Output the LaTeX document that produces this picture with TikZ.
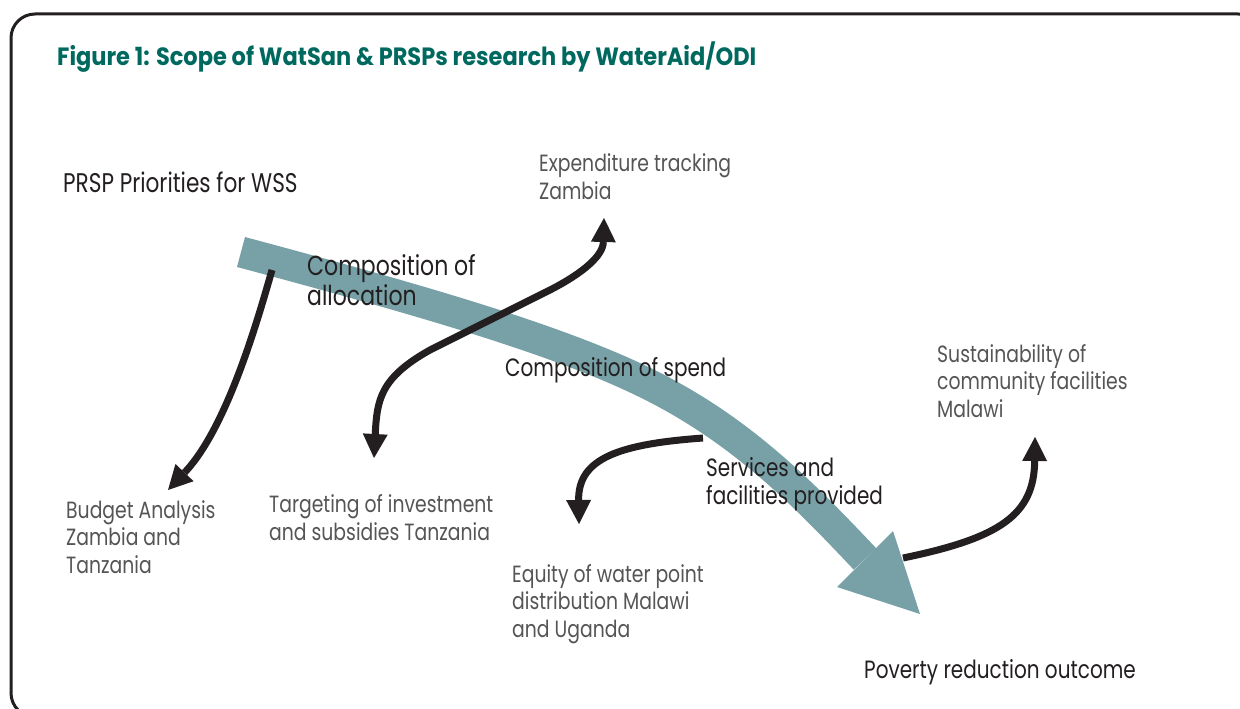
\documentclass[tikz,border=0pt]{standalone}
\usepackage{fontspec}
\setmainfont{Poppins}[FakeStretch=0.8]
\newfontfamily\titlefont{Poppins}[FakeStretch=0.9]
\usetikzlibrary{arrows.meta}
\definecolor{titlecol}{HTML}{00695F}
\definecolor{bandcol}{HTML}{77A1A6}
\definecolor{ink}{HTML}{231F20}
\definecolor{greytext}{HTML}{555555}
\begin{document}
\begin{tikzpicture}[x=1pt,y=-1pt,
  darklab/.style={font=\fontsize{25}{28}\selectfont, text=ink, inner sep=0pt, anchor=base west, align=left},
  greylab/.style={darklab, font=\fontsize{23.5}{27.5}\selectfont, text=greytext},
  titlelab/.style={font=\titlefont\fontsize{25}{28}\selectfont\bfseries, text=titlecol, inner sep=0pt, anchor=base west},
  blkarrow/.style={draw=ink, line width=7pt, -{Triangle[width=25pt,length=24pt,line width=0pt]}},
  dblarrow/.style={draw=ink, line width=7pt, {Triangle[width=25pt,length=24pt,line width=0pt]}-{Triangle[width=25pt,length=24pt,line width=0pt]}},
  bandline/.style={draw=bandcol, line width=31pt, line cap=butt}
]
\useasboundingbox (0,0) rectangle (1240,709);
\clip (0,0) rectangle (1240,709);
\fill[white] (0,0) rectangle (1240,709);
% frame
\draw[ink, line width=3pt, rounded corners=24pt] (11,14) rectangle (1262,717);

% title
\node[titlelab] (title) at (57,66) {Figure 1: Scope of WatSan \& PRSPs research by WaterAid/ODI};

% main teal band
\coordinate (bandstart) at (241,252);
\coordinate (bandmid) at (650,385);
\coordinate (bandend) at (865,559);
\draw[bandline] (bandstart) .. controls (420,300) and (560,340) .. (bandmid)
  .. controls (740,430) and (800,490) .. (bandend);
\fill[bandcol] (920,614) -- (837,587) -- (893,531) -- cycle;

% black arrows
\coordinate (a1s) at (272,270);
\coordinate (a1e) at (168,490);
\draw[blkarrow] (a1s) .. controls (255,330) and (225,430) .. (a1e);

\coordinate (a2s) at (374,458);
\coordinate (a2e) at (604,218);
\draw[dblarrow] (a2s) .. controls (377,400) and (380,378) .. (430,350)
  -- (550,290) .. controls (585,272) and (603,255) .. (a2e);

\coordinate (a3s) at (703,438);
\coordinate (a3e) at (579,524);
\draw[blkarrow] (a3s) .. controls (620,444) and (578,458) .. (a3e);

\coordinate (a4s) at (903,558);
\coordinate (a4e) at (1035,437);
\draw[blkarrow] (a4s) .. controls (1000,538) and (1034,515) .. (a4e);

% labels (base anchor = baseline of last line)
\node[darklab, font=\fontsize{27}{28}\selectfont] (prsp) at (63,192) {PRSP Priorities for WSS};
\node[greylab] (exp) at (539,199) {Expenditure tracking\\Zambia};
\node[darklab, font=\fontsize{27.5}{28}\selectfont] (alloc) at (307,305) {Composition of\\allocation};
\node[darklab] (spend) at (505,376) {Composition of spend};
\node[greylab] (sust) at (937,417) {Sustainability of\\community facilities\\Malawi};
\node[greylab] (budget) at (66,573) {Budget Analysis\\Zambia and\\Tanzania};
\node[greylab] (target) at (269,540) {Targeting of investment\\and subsidies Tanzania};
\node[darklab] (serv) at (706,504) {Services and\\facilities provided};
\node[greylab] (equity) at (512,637) {Equity of water point\\distribution Malawi\\and Uganda};
\node[darklab] (pov) at (864,678) {Poverty reduction outcome};
\end{tikzpicture}
\end{document}
